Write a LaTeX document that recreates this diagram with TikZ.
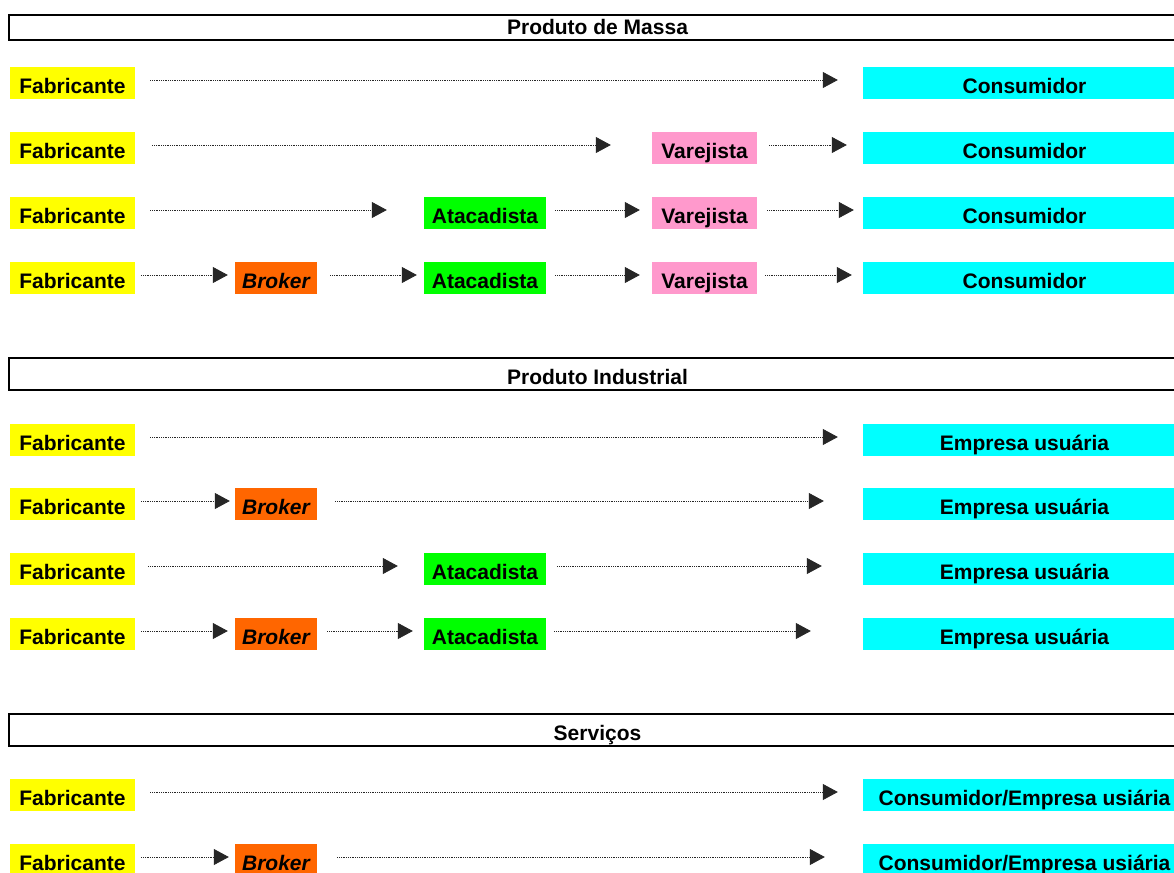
\documentclass[tikz,border=0pt]{standalone}
\usepackage{fontspec}
\setmainfont{Liberation Sans}
\usetikzlibrary{arrows.meta}
\definecolor{cYel}{RGB}{255,255,0}
\definecolor{cCyan}{RGB}{0,255,255}
\definecolor{cGreen}{RGB}{0,255,0}
\definecolor{cOrange}{RGB}{255,102,0}
\definecolor{cPink}{RGB}{255,153,204}
\newcommand\conn[4]{\draw[arr, shorten <=#3pt, shorten >=#4pt] ([yshift=3pt]#1.east) -- ([yshift=3pt]#2.west);}
\begin{document}
\begin{tikzpicture}[x=1pt,y=-1pt,
  box/.style={fill=#1, minimum height=32pt, inner sep=0pt, font=\fontsize{21}{24}\selectfont\bfseries, text height=21pt, text depth=0pt},
  fab/.style={box=cYel, minimum width=125pt},
  brk/.style={box=cOrange, minimum width=82pt, font=\fontsize{21}{24}\selectfont\bfseries\itshape},
  ata/.style={box=cGreen, minimum width=122pt},
  var/.style={box=cPink, minimum width=105pt},
  cons/.style={box=cCyan, minimum width=323pt},
  hdr/.style={draw, line width=2pt, fill=white, minimum width=1177pt, minimum height=32pt, inner sep=0pt, font=\fontsize{21}{24}\selectfont\bfseries, text height=21pt, text depth=0pt},
  arr/.style={densely dotted, line width=0.8pt, draw=black!85, -{Triangle[length=15pt,width=16pt]}}
]
\useasboundingbox (0,0) rectangle (1174,872);
\clip (0,0) rectangle (1174,872);
\fill[white] (0,0) rectangle (1174,872);

% ---- Produto de Massa
\node[hdr, minimum height=25pt, text height=15pt] (h1) at (597.5,27.5) {Produto de Massa};

\node[fab] (f1) at (72.5,83) {Fabricante};
\node[cons] (c1) at (1024.5,83) {Consumidor};
\conn{f1}{c1}{15}{25}

\node[fab] (f2) at (72.5,148) {Fabricante};
\node[var] (v2) at (704.5,148) {Varejista};
\node[cons] (c2) at (1024.5,148) {Consumidor};
\conn{f2}{v2}{17}{41}
\conn{v2}{c2}{12}{16}

\node[fab] (f3) at (72.5,213) {Fabricante};
\node[ata] (a3) at (485,213) {Atacadista};
\node[var] (v3) at (704.5,213) {Varejista};
\node[cons] (c3) at (1024.5,213) {Consumidor};
\conn{f3}{a3}{15}{37}
\conn{a3}{v3}{9}{12}
\conn{v3}{c3}{10}{9}

\node[fab] (f4) at (72.5,278) {Fabricante};
\node[brk] (b4) at (276,278) {Broker};
\node[ata] (a4) at (485,278) {Atacadista};
\node[var] (v4) at (704.5,278) {Varejista};
\node[cons] (c4) at (1024.5,278) {Consumidor};
\conn{f4}{b4}{6}{7}
\conn{b4}{a4}{13}{7}
\conn{a4}{v4}{9}{12}
\conn{v4}{c4}{8}{11}

% ---- Produto Industrial
\node[hdr] (h2) at (597.5,374) {Produto Industrial};

\node[fab] (f5) at (72.5,440) {Fabricante};
\node[cons] (e5) at (1024.5,440) {Empresa usuária};
\conn{f5}{e5}{15}{25}

\node[fab] (f6) at (72.5,504) {Fabricante};
\node[brk] (b6) at (276,504) {Broker};
\node[cons] (e6) at (1024.5,504) {Empresa usuária};
\conn{f6}{b6}{6}{5}
\conn{b6}{e6}{18}{39}

\node[fab] (f7) at (72.5,569) {Fabricante};
\node[ata] (a7) at (485,569) {Atacadista};
\node[cons] (e7) at (1024.5,569) {Empresa usuária};
\conn{f7}{a7}{13}{26}
\conn{a7}{e7}{11}{41}

\node[fab] (f8) at (72.5,634) {Fabricante};
\node[brk] (b8) at (276,634) {Broker};
\node[ata] (a8) at (485,634) {Atacadista};
\node[cons] (e8) at (1024.5,634) {Empresa usuária};
\conn{f8}{b8}{6}{7}
\conn{b8}{a8}{10}{11}
\conn{a8}{e8}{8}{52}

% ---- Serviços
\node[hdr] (h3) at (597.5,730) {Serviços};

\node[fab] (f9) at (72.5,795) {Fabricante};
\node[cons] (s9) at (1024.5,795) {Consumidor/Empresa usiária};
\conn{f9}{s9}{15}{25}

\node[fab] (f10) at (72.5,860) {Fabricante};
\node[brk] (b10) at (276,860) {Broker};
\node[cons] (s10) at (1024.5,860) {Consumidor/Empresa usiária};
\conn{f10}{b10}{6}{6}
\conn{b10}{s10}{20}{38}
\end{tikzpicture}
\end{document}
